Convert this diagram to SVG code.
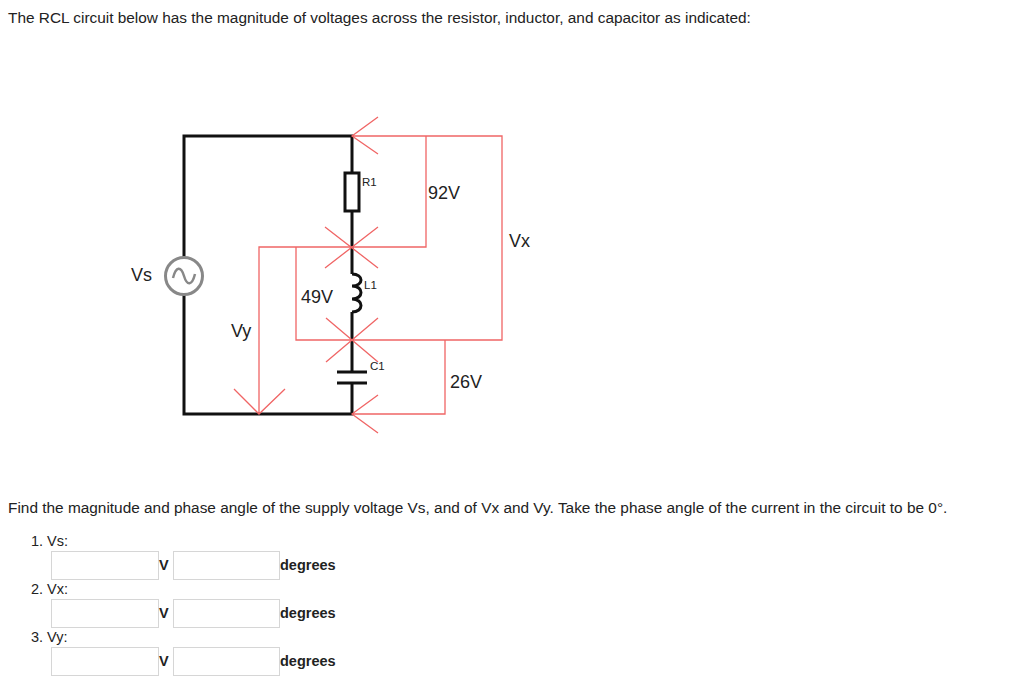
<svg xmlns="http://www.w3.org/2000/svg" width="1024" height="680" viewBox="0 0 1024 680">
<style>
text{font-family:"Liberation Sans",Arial,sans-serif;fill:#222}
.w{fill:none;stroke:#111;stroke-width:3}
.r{fill:none;stroke:#f06565;stroke-width:1.3}
.box{fill:#fff;stroke:#d6d6d6;stroke-width:1}
.b{font-weight:bold;font-size:14.5px}
.l{font-size:18px}
</style>
<rect width="1024" height="680" fill="#fff"/>
<text x="8" y="23" font-size="15.4">The RCL circuit below has the magnitude of voltages across the resistor, inductor, and capacitor as indicated:</text>
<g id="circuit">
<path class="w" d="M184,257 V136 H352 V173 M352,211 V274 M352,312 V372 M352,383 V414 H184 V295"/>
<rect x="345" y="173" width="14" height="38" fill="#fff" stroke="#111" stroke-width="3"/>
<path class="w" d="M352,274 c12,0 12,12 0,12 c12,0 12,13 0,13 c12,0 12,13 0,13"/>
<path class="w" d="M337,372 H367 M337,383 H367"/>
<circle cx="184" cy="276" r="18.5" fill="#fff" stroke="#888" stroke-width="3"/>
<path d="M173,278 c3,-12 8,-12 11,-2 s8,10 11,-2" fill="none" stroke="#888" stroke-width="2.5"/>
</g>
<g id="connectors">
<path class="r" d="M352,136 H502 V340 H296 V247 M426,136 V247 H259 V414 M352,414 H445 V340"/>
<path class="r" d="M378,117 L352,136 L378,154 M378,395 L352,414 L378,433 M234,389 L259,414 L285,389"/>
<path class="r" d="M325,227 L378,268 M378,227 L325,268 M326,318 L378,362 M378,318 L326,362"/>
</g>
<g id="labels">
<text x="362" y="186" font-size="11.5">R1</text>
<text class="l" x="428" y="199">92V</text>
<text class="l" x="509" y="247">Vx</text>
<text class="l" x="131" y="281">Vs</text>
<text class="l" x="301" y="303">49V</text>
<text x="364" y="289" font-size="11.5">L1</text>
<text class="l" x="231" y="337">Vy</text>
<text x="370" y="370" font-size="11.5">C1</text>
<text class="l" x="450" y="388">26V</text>
</g>
<g id="form">
<text x="8" y="513" font-size="15.4">Find the magnitude and phase angle of the supply voltage Vs, and of Vx and Vy.  Take the phase angle of the current in the circuit to be 0°.</text>
<text x="31" y="546" font-size="14.5">1.  Vs:</text>
<text x="31" y="594" font-size="14.5">2.  Vx:</text>
<text x="31" y="642" font-size="14.5">3.  Vy:</text>
<rect class="box" x="51.5" y="551.5" width="107" height="28"/>
<rect class="box" x="173.5" y="551.5" width="106" height="28"/>
<rect class="box" x="51.5" y="599.5" width="107" height="28"/>
<rect class="box" x="173.5" y="599.5" width="106" height="28"/>
<rect class="box" x="51.5" y="647.5" width="107" height="28"/>
<rect class="box" x="173.5" y="647.5" width="106" height="28"/>
<text class="b" x="159" y="570">V</text><text class="b" x="280" y="570">degrees</text>
<text class="b" x="159" y="618">V</text><text class="b" x="280" y="618">degrees</text>
<text class="b" x="159" y="666">V</text><text class="b" x="280" y="666">degrees</text>
</g>
</svg>
